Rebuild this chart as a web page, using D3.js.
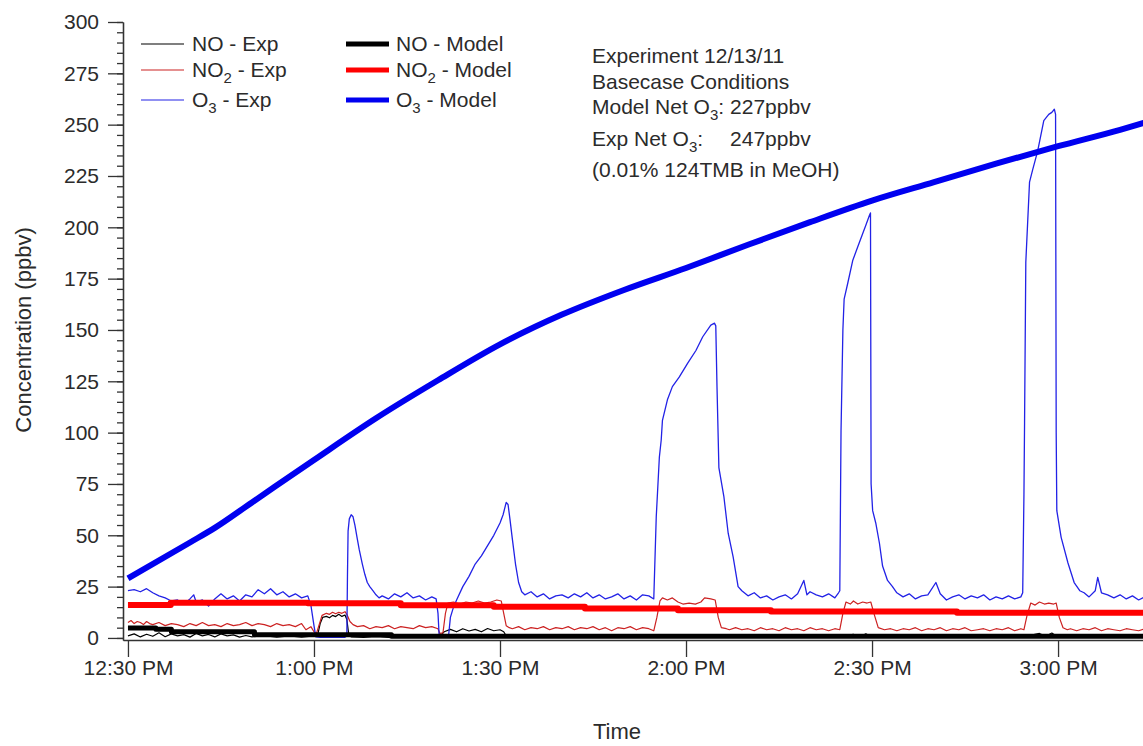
<!DOCTYPE html>
<html>
<head>
<meta charset="utf-8">
<script src="https://d3js.org/d3.v7.min.js"></script>
<style>
  body { margin: 0; background: #fff; }
  text { font-family: "Liberation Sans", Arial, sans-serif; fill: #2b2b2b; }
</style>
</head>
<body>
<div id="chart"></div>
<script>
// Experiment 12/13/11 - all times are minutes after 12:30 PM, values in ppbv

var o3Model = [[0,29],[10,46.5],[14,53.6],[20,66],[30,86.7],[40,107],[50,125.5],[60,143],[70,157.5],
  [80,169.5],[90,180.2],[100,191.5],[110,202.5],[120,213],[130,222],[140,231],[150,239.5],[160,247.5],[164,251]];

var no2Model = [[0,16.1],[6.9,17.2],[29,16.9],[44,15.9],[59,15.2],[73.7,14.4],[88.7,13.5],[103.7,12.9],[133.7,12.3],[164,12.3]];

var noModel = [[0,4.8],[4.5,4.2],[7,3.0],[20.4,1.6],[42.5,0.8],[164,0.7]];

var o3Exp = [[0,23],[1,23.5],[2,22.5],[3,24],[4,22],[5,20.5],[6,19.5],[7,18],[8,18.5],[9,16.5],[10,19],[10.6,21],
  [11,17.5],[12,18.5],[13,15.5],[14,19],[15,21.5],[16,19],[17,20.5],[18,18],[19,21],[20,20],[21,23.5],[22,21.5],
  [23,24],[24,21],[25,22.5],[26,20],[27,21.5],[28,19.5],[29,20.5],[29.5,16],[30,6],[30.3,0.5],[31,0.3],[33,0.3],
  [35,0.3],[35.3,1],[35.4,30],[35.5,52],[35.7,58],[36,60],[36.3,59],[36.6,55],[37,48],[37.3,43],[37.8,36],[38.2,31],
  [38.6,27],[39,25],[39.5,23],[40,21],[40.5,19.5],[41,20.5],[42,19],[43,21.5],[44,20],[45,22],[46,19.5],[47,20.5],
  [48,18.5],[49,20],[49.7,19],[50,12],[50.2,0.5],[51,0.3],[51.7,0.8],[52,10],[52.5,15],[53,18.5],[54,25],[55,30],
  [56,36],[57,40],[58,45],[59,50],[60,56],[60.5,60],[61,66],[61.3,65],[61.6,58],[62,48],[62.5,36],[63,27],[63.5,22.5],
  [64,21],[65,22.5],[66,20],[67,21.5],[68,19],[69,20.5],[70,21],[71,19.5],[72,21.5],[73,20],[74,22],[75,19.5],
  [76,21],[77,19],[78,20],[79,21.5],[80,19],[81,20.5],[82,18.5],[83,21],[84,20.5],[84.8,19],[85.2,59],[85.7,88],
  [86,96.4],[86.2,106],[87,116],[87.8,122.4],[88.9,127],[90.3,134],[91.6,140],[92.7,146.7],[94,152.4],[94.6,153.3],
  [94.8,152],[95,122],[95.3,83],[96.1,69],[96.8,51],[97.6,39.5],[98.4,25],[99,23],[100,20.5],[101,22],[102,19.5],
  [103,20.5],[104,18.5],[105,20],[106,21],[107,19],[108,21.5],[109,28],[109.5,21],[110,22.5],[111,21],[112,20],
  [113,21.5],[114,19.5],[114.6,22],[114.8,23],[115,101],[115.3,150],[115.5,165],[116.1,173],[116.9,184],[117.7,190.5],
  [118.5,197],[119,201],[119.6,206],[119.75,207],[119.85,75],[120.1,62],[120.6,56],[121.2,46],[121.7,35],[122.5,28],
  [123.3,25],[124,22],[125,20],[126,21.5],[127,19],[128,20.5],[129,21],[130.3,27],[131,21.5],[132,18.5],[133,20],
  [134,21],[135,19],[136,20.5],[137,19.5],[138,21],[139,18.5],[140,20],[141,19],[142,20.5],[143,19],[144,20],
  [144.3,22],[144.5,70],[144.6,105],[144.8,183],[145.4,222],[145.9,228],[146.7,237],[147.7,252],[148.5,255],[149,256],
  [149.4,257.5],[149.6,255],[149.7,100],[149.8,62],[150.5,49],[151.6,36.5],[152.6,27],[153.5,23],[154.2,22],[155,20],
  [156,23],[156.4,29.5],[157,22],[158,21],[159,19.5],[160,21],[161,19],[162,20.5],[163,18.5],[164,20]];

var no2Exp = [[0,7.5],[0.5,8.5],[1,7],[1.5,8],[2,7.5],[2.5,6.5],[3,8],[3.5,7],[4,6.5],[5,7.5],[6,6],[7,7],[8,6.5],
  [9,5.5],[10,7],[11,6],[12,7.5],[13,6],[14,6.5],[15,5.5],[16,7],[17,6],[18,6.5],[19,7.5],[20,6],[21,7],[22,6.5],
  [23,5.5],[24,7],[25,6],[26,6.5],[27,5.5],[28,7],[28.7,4],[29.5,5.5],[30,3],[30.4,2.2],[31,8],[31.3,11],[32,12],
  [32.5,11.5],[33,12.5],[33.5,11.8],[34,12.5],[34.5,12],[35,12.8],[35.3,11.5],[35.8,8],[36.3,6.5],[37,5.5],[38,6],
  [39,4.5],[40,5.5],[41,5],[42,6],[43,4.5],[44,5.5],[45,5],[46,4.5],[47,6],[48,5],[49,5.5],[50,4.5],[50.3,2.2],
  [50.8,2.5],[51.2,12],[51.6,17],[52.5,17.5],[53.5,16.5],[54.5,17.5],[55.5,17],[56.5,18],[57.5,17],[58.5,17.5],
  [59.5,18.5],[60.2,18],[60.6,12],[61,6],[61.5,5],[62,4.5],[63,5.5],[64,4],[65,5],[66,4.5],[67,5.5],[68,4],[69,5],
  [70,4.5],[71,5.5],[72,4],[73,5],[74,4.5],[75,5.5],[76,4],[77,5],[78,3.5],[79,5],[80,4.5],[81,5.5],[82,4],[83,5],
  [84,4.5],[84.8,3.5],[85.3,10],[85.8,18],[86.2,19.5],[87,18.5],[87.8,19.5],[88.7,17.5],[89.5,16.5],[90.5,17],
  [91.5,16.5],[92.4,17.5],[93,19.5],[94,19],[94.7,18.5],[95.2,10],[95.7,5],[96.5,4.5],[97,4],[98,5],[99,4],[100,4.5],
  [101,3.5],[102,5],[103,4],[104,4.5],[105,3.5],[106,5],[107,4],[108,4.5],[109,3.5],[110,5],[111,4],[112,4.5],
  [113,3.5],[114,4.5],[114.8,4],[115.3,12],[115.8,17.5],[116.5,16.5],[117,18],[117.7,16.5],[118.5,17.5],[119.2,17],
  [119.8,17.5],[120.4,11],[121,5],[122,4],[123,4.5],[124,3.5],[125,4.5],[126,4],[127,5],[128,3.5],[129,4.5],[130,4],
  [131,5],[132,3.5],[133,4.5],[134,4],[135,5],[136,3.5],[137,4],[138,4.5],[139,3.5],[140,4.5],[141,4],[142,5],
  [143,3.5],[144,4.5],[144.5,4],[145,11],[145.6,17],[146.3,16],[147,17.5],[147.8,16.5],[148.5,17],[149.3,16.5],
  [149.7,17],[150.2,10],[150.8,5],[151.5,4],[152,4.5],[153,3.5],[154,4.5],[155,4],[156,5],[157,3.5],[158,4.5],
  [159,4],[160,3.5],[161,4.5],[162,4],[163,3.5],[164,4.5]];

var noExp = [[0,1],[1,2],[2,0.5],[3,1.8],[4,0.8],[5,2.5],[6,0.6],[7,2],[8,1],[9,1.6],[10,0.4],[11,2.2],[12,1],
  [13,1.7],[14,0.5],[15,2],[16,1],[17,1.5],[18,0.4],[19,1.2],[20,0.5],[22,1.1],[24,0.4],[26,1],[28,0.4],[30,1],
  [30.6,1.5],[31,7],[31.4,10],[32,10.5],[32.5,9.8],[33,11],[33.5,10.4],[34,11.5],[34.5,10.5],[35,11.2],[35.3,9],
  [35.6,2],[36,0.5],[38,0.3],[40,0.6],[42,0.3],[44,0.5],[46,0.3],[48,0.6],[50,0.3],[50.5,1.5],[51,3],[52,4.2],
  [53,3],[54,4.5],[55,3.4],[56,4.2],[57,3],[58,4.6],[59,3.5],[60,4],[60.6,3],[61,1],[62,0.3],[65,0.6],[68,0.3],
  [70,1.4],[71,0.3],[75,0.5],[78,0.3],[80,1.2],[81,0.3],[85,0.5],[88,0.3],[90,1.5],[91,0.3],[95,0.6],[98,0.3],
  [100,1.6],[101,0.3],[105,0.5],[108,0.3],[112,1.2],[113,0.3],[117,1.8],[118,0.4],[119,2],[120,0.3],[124,0.6],
  [128,0.3],[131,1.4],[132,0.3],[136,0.6],[140,0.3],[143,1],[144,0.3],[147,2.2],[148,0.8],[149,2.4],[150,0.3],
  [154,0.6],[158,0.3],[161,1.2],[162,0.3],[164,0.6]];

var yTicks = [0, 25, 50, 75, 100, 125, 150, 175, 200, 225, 250, 275, 300];
var xTickMinutes = [0, 30, 60, 90, 120, 150];

// label parts: [text, subscript, text after]
var seriesNames = [["NO", "", " - Exp"], ["NO", "2", " - Exp"], ["O", "3", " - Exp"],
                   ["NO", "", " - Model"], ["NO", "2", " - Model"], ["O", "3", " - Model"]];
var notes = [["Experiment 12/13/11"], ["Basecase Conditions"], ["Model Net O", "3", ":", "227ppbv"],
             ["Exp Net O", "3", ":", "247ppbv"], ["(0.01% 124TMB in MeOH)"]];

var width = 1143, height = 746;
var fontSize = 21;

var t0 = new Date(2011, 11, 13, 12, 30);
function toTime(m) { return new Date(t0.getTime() + m * 60000); }

var x = d3.scaleTime()
    .domain([toTime(-0.8), toTime(163.7)])
    .range([123, 1143]);

var y = d3.scaleLinear()
    .domain([-1, 300])
    .range([640, 22]);

var svg = d3.select("#chart").append("svg")
    .attr("width", width)
    .attr("height", height);

var series = [
  { data: noExp,    color: "#000000", width: 1.2, curve: d3.curveLinear },
  { data: no2Exp,   color: "#cc2222", width: 1.2, curve: d3.curveLinear },
  { data: o3Exp,    color: "#2222e6", width: 1.3, curve: d3.curveLinear },
  { data: noModel,  color: "#000000", width: 5,   curve: d3.curveStepAfter },
  { data: no2Model, color: "#ff0000", width: 6,   curve: d3.curveStepAfter },
  { data: o3Model,  color: "#0000f0", width: 6,   curve: d3.curveMonotoneX }
];

// Axes
svg.append("g")
    .attr("transform", "translate(123,0)")
    .call(d3.axisLeft(y).tickValues(d3.range(0, 301, 5)).tickSize(6).tickSizeOuter(0).tickFormat(""));

svg.append("g")
    .attr("transform", "translate(123,0)")
    .call(d3.axisLeft(y).tickValues(yTicks).tickSize(15).tickSizeOuter(0).tickPadding(9));

svg.append("g")
    .attr("transform", "translate(0,640)")
    .call(d3.axisBottom(x)
      .tickValues(xTickMinutes.map(toTime))
      .tickSize(17).tickSizeOuter(0).tickPadding(3)
      .tickFormat(d3.timeFormat("%-I:%M %p")));

svg.selectAll(".domain, .tick line")
    .style("stroke", "#333")
    .style("stroke-width", 1.3);

svg.selectAll(".tick text")
    .style("font-size", fontSize + "px")
    .style("fill", "#2b2b2b");

svg.append("text")
    .attr("transform", "translate(31,330) rotate(-90)")
    .attr("text-anchor", "middle")
    .style("font-size", "22px")
    .text("Concentration (ppbv)");

svg.append("text")
    .attr("x", 617)
    .attr("y", 739)
    .attr("text-anchor", "middle")
    .style("font-size", "22px")
    .text("Time");

// Lines
var line = d3.line()
    .x(function(d) { return x(toTime(d[0])); })
    .y(function(d) { return y(d[1]); });

var gLines = svg.append("g");
series.forEach(function(s) {
  gLines.append("path")
      .datum(s.data)
      .attr("fill", "none")
      .attr("stroke", s.color)
      .attr("stroke-width", s.width)
      .attr("stroke-linejoin", "round")
      .attr("d", line.curve(s.curve));
});

function addRich(sel, parts) {
  sel.append("tspan").text(parts[0]);
  if (parts[1]) {
    sel.append("tspan").attr("dy", 6).style("font-size", "15px").text(parts[1]);
    sel.append("tspan").attr("dy", -6).text(parts[2]);
  } else if (parts[2]) {
    sel.append("tspan").text(parts[2]);
  }
}

// Legend
var legend = svg.append("g");
var legendRows = [44, 70, 100];
series.forEach(function(s, i) {
  var col = Math.floor(i / 3), row = i % 3;
  var x0 = col === 0 ? 141 : 346;
  var g = legend.append("g").attr("transform", "translate(" + x0 + "," + legendRows[row] + ")");
  g.append("line")
      .attr("x1", 0).attr("x2", 43)
      .attr("stroke", s.color)
      .attr("stroke-width", col === 0 ? 1.2 : 5);
  var t = g.append("text")
      .attr("x", col === 0 ? 51 : 50)
      .attr("dy", "0.35em")
      .style("font-size", fontSize + "px");
  addRich(t, seriesNames[i]);
});

// Notes
var noteRows = [56, 82, 107, 139, 170];
var valueX = null;
notes.forEach(function(n, i) {
  var t = svg.append("text")
      .attr("x", 592)
      .attr("y", noteRows[i])
      .attr("dy", "0.35em")
      .style("font-size", fontSize + "px");
  addRich(t, n);
  if (n.length > 3) {
    if (valueX === null) {
      valueX = 592 + t.node().getComputedTextLength() + 6;
    }
    svg.append("text")
        .attr("x", valueX)
        .attr("y", noteRows[i])
        .attr("dy", "0.35em")
        .style("font-size", fontSize + "px")
        .text(n[3]);
  }
});
</script>
</body>
</html>
